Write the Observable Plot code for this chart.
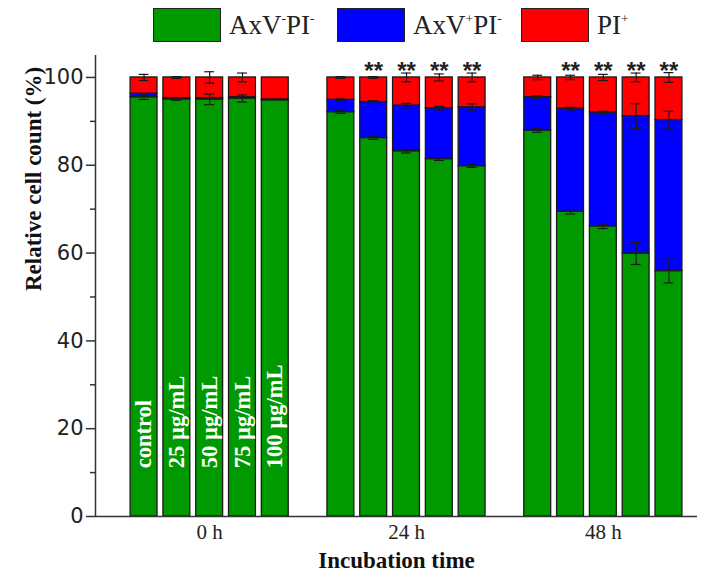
<!DOCTYPE html>
<html>
<head>
<meta charset="utf-8">
<script src="https://cdn.jsdelivr.net/npm/d3@7"></script>
<script src="https://cdn.jsdelivr.net/npm/@observablehq/plot@0.6"></script>
<style>
  html, body { margin: 0; padding: 0; background: #fff; }
  #wrap { width: 705px; height: 574px; position: relative; overflow: hidden; }
  #legend { height: 50px; display: flex; align-items: center; padding-left: 153px; box-sizing: border-box;
            font-family: "Liberation Serif", "Times New Roman", serif; font-size: 27px; color: #222; }
  .item { display: flex; align-items: center; width: 188px; }
  .sw { width: 68px; height: 34px; border: 1.5px solid #222; box-sizing: border-box; margin-right: 8px; }
  sup { font-size: 0.5em; vertical-align: 0.85em; line-height: 0; }
</style>
</head>
<body>
<div id="wrap">
  <div id="legend"></div>
  <div id="chart"></div>
</div>
<script>
const times = ["0 h", "24 h", "48 h"];
const concentrations = ["control", "25 µg/mL", "50 µg/mL", "75 µg/mL", "100 µg/mL"];
const populations = ["AxV⁻PI⁻", "AxV⁺PI⁻", "PI⁺"];
const legendHtml = ["AxV<sup>-</sup>PI<sup>-</sup>", "AxV<sup>+</sup>PI<sup>-</sup>", "PI<sup>+</sup>"];
const colors = ["#009a00", "#0000ff", "#ff0000"];

// AxV-PI- (live) %, per time group, per concentration
const liveValues = [
  [95.5, 95.0, 95.0, 95.2, 94.8],
  [92.1, 86.2, 83.2, 81.4, 79.8],
  [87.9, 69.4, 66.1, 59.9, 55.9]
];
// AxV+PI- (early apoptotic) %
const earlyValues = [
  [0.8, 0.3, 0.3, 0.3, 0.2],
  [2.8, 8.2, 10.4, 11.6, 13.4],
  [7.6, 23.5, 25.9, 31.3, 34.4]
];
// error bars (SD) at top of each segment
const liveErrors = [
  [0.5, 0.2, 1.2, 0.8, 0],
  [0.3, 0.3, 0.4, 0.3, 0.3],
  [0.4, 0.5, 0.5, 2.5, 2.7]
];
const earlyErrors = [
  [0, 0, 0, 0, 0],
  [0.2, 0.3, 0.5, 0.4, 0.8],
  [0.3, 0.3, 0.3, 2.8, 2.0]
];
const totalErrors = [
  [0.7, 0.2, 1.3, 1.0, 0],
  [0.2, 0.2, 1.0, 0.8, 1.0],
  [0.5, 0.5, 0.7, 1.0, 1.1]
];
const significance = [
  ["", "", "", "", ""],
  ["", "**", "**", "**", "**"],
  ["", "**", "**", "**", "**"]
];
const yTicks = [0, 20, 40, 60, 80, 100];
const yMinorTicks = [10, 30, 50, 70, 90];
const yLabel = "Relative cell count (%)";
const xLabel = "Incubation time";

const slotsPerGroup = concentrations.length + 1;
const xDomain = [-1.48, 16.87];
const half = 0.41;

const segments = [], errs = [], labels = [], stars = [];
times.forEach((t, ti) => concentrations.forEach((c, ci) => {
  const pos = ti * slotsPerGroup + ci;
  const live = liveValues[ti][ci], early = earlyValues[ti][ci];
  segments.push({pos, pop: populations[0], y1: 0, y2: live});
  segments.push({pos, pop: populations[1], y1: live, y2: live + early});
  segments.push({pos, pop: populations[2], y1: live + early, y2: 100});
  [[live, liveErrors[ti][ci]], [live + early, earlyErrors[ti][ci]], [100, totalErrors[ti][ci]]]
    .forEach(([y, e]) => { if (e > 0) errs.push({pos, y, e}); });
  if (ti === 0) labels.push({pos, text: c});
  if (significance[ti][ci]) stars.push({pos, text: significance[ti][ci]});
}));
const groupTicks = times.map((t, ti) => ti * slotsPerGroup + (concentrations.length - 1) / 2);

// legend
const lg = document.getElementById("legend");
populations.forEach((p, i) => {
  const it = document.createElement("div");
  it.className = "item";
  it.innerHTML = `<div class="sw" style="background:${colors[i]}"></div><span>${legendHtml[i]}</span>`;
  lg.appendChild(it);
});

const serif = "'Liberation Serif', 'Times New Roman', serif";
const sans = "'DejaVu Sans', 'Liberation Sans', Arial, sans-serif";

const chart = Plot.plot({
  width: 705,
  height: 524,
  marginLeft: 95,
  marginRight: 8,
  marginTop: 5,
  marginBottom: 58,
  x: {type: "linear", domain: xDomain, axis: null},
  y: {domain: [0, 105], axis: null},
  color: {domain: populations, range: colors},
  marks: [
    Plot.rectY(segments, {x1: d => d.pos - half, x2: d => d.pos + half, y1: "y1", y2: "y2",
      fill: "pop", stroke: "#1a1a1a", strokeWidth: 1.3}),
    Plot.ruleX(errs, {x: "pos", y1: d => d.y - d.e, y2: d => d.y + d.e, stroke: "#1a1a1a", strokeWidth: 1.2}),
    Plot.ruleY(errs, {y: d => d.y + d.e, x1: d => d.pos - 0.15, x2: d => d.pos + 0.15, stroke: "#1a1a1a", strokeWidth: 1.2}),
    Plot.ruleY(errs, {y: d => d.y - d.e, x1: d => d.pos - 0.15, x2: d => d.pos + 0.15, stroke: "#1a1a1a", strokeWidth: 1.2}),
    Plot.text(labels, {x: "pos", y: 11, text: "text", rotate: -90, textAnchor: "start",
      fill: "white", fontWeight: "bold", fontSize: 22.5, fontFamily: serif}),
    Plot.text(stars, {x: "pos", y: 101.5, text: "text", fontSize: 24, fontWeight: "bold",
      fontFamily: "'Liberation Sans', Arial, sans-serif", fill: "#222"}),
    Plot.ruleY([0], {stroke: "#333", strokeWidth: 1.5}),
    Plot.ruleX([xDomain[0]], {stroke: "#333", strokeWidth: 1.5}),
    Plot.axisY({ticks: yTicks, tickSize: 9, tickPadding: 3, fontSize: 21, fontFamily: sans,
      stroke: "#333", strokeWidth: 1.5, color: "#222", label: null}),
    Plot.axisY({ticks: yMinorTicks, tickSize: 5, tickFormat: () => "", stroke: "#333", strokeWidth: 1.5, label: null}),
    Plot.axisX({ticks: groupTicks, tickFormat: (d, i) => times[i], tickSize: 0, tickPadding: 8,
      fontSize: 21, fontFamily: serif, color: "#222", label: null}),
    Plot.text([xLabel], {frameAnchor: "bottom", dy: 51, fontSize: 23, fontWeight: "bold", fontFamily: serif, fill: "#111"}),
    Plot.text([yLabel], {frameAnchor: "left", dx: -62, dy: 5, rotate: -90, fontSize: 23, fontWeight: "bold", fontFamily: serif, fill: "#111"})
  ]
});
document.getElementById("chart").appendChild(chart);
</script>
</body>
</html>
